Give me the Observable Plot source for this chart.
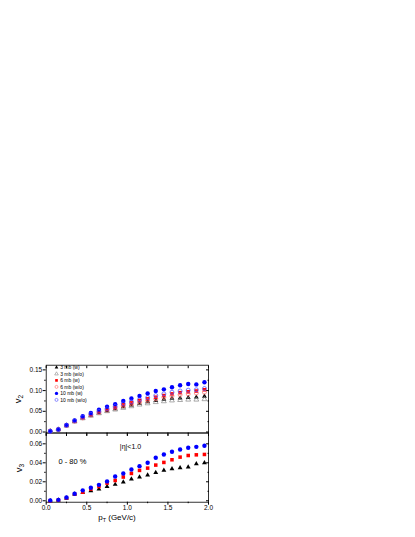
<!DOCTYPE html>
<html><head><meta charset="utf-8">
<script src="https://cdn.jsdelivr.net/npm/d3@7"></script>
<script src="https://cdn.jsdelivr.net/npm/@observablehq/plot@0.6"></script>
<style>
body{margin:0;background:#fff;}
#c{position:relative;width:415px;height:537px;background:#fff;overflow:hidden;font-family:"Liberation Sans",Arial,sans-serif;}
#c svg{position:absolute;left:0;}
.lab{position:absolute;white-space:nowrap;color:#000;line-height:1;}
.lab sub{font-size:68%;vertical-align:-0.3em;}
</style></head><body><div id="c"></div>
<script>
// ---- data ----
const pt = [0.05,0.15,0.25,0.35,0.45,0.55,0.65,0.75,0.85,0.95,1.05,1.15,1.25,1.35,1.45,1.55,1.65,1.75,1.85,1.95];
const seriesNames = ["3 mb (w)","3 mb (w/o)","6 mb (w)","6 mb (w/o)","10 mb (w)","10 mb (w/o)"];
const v2_3mb_w   = [0.002,0.006,0.016,0.026,0.034,0.040,0.046,0.051,0.056,0.061,0.065,0.069,0.073,0.076,0.079,0.081,0.082,0.083,0.084,0.086];
const v2_3mb_wo  = [0.002,0.006,0.015,0.025,0.033,0.039,0.045,0.050,0.054,0.058,0.062,0.066,0.069,0.072,0.074,0.076,0.077,0.078,0.078,0.079];
const v2_6mb_w   = [0.002,0.006,0.016,0.026,0.035,0.042,0.049,0.055,0.060,0.066,0.071,0.076,0.080,0.084,0.088,0.092,0.095,0.097,0.099,0.102];
const v2_6mb_wo  = [0.002,0.006,0.016,0.026,0.034,0.041,0.047,0.053,0.058,0.063,0.068,0.072,0.076,0.080,0.084,0.087,0.090,0.092,0.094,0.096];
const v2_10mb_w  = [0.002,0.006,0.017,0.028,0.038,0.046,0.054,0.061,0.067,0.075,0.081,0.087,0.093,0.099,0.103,0.108,0.113,0.116,0.115,0.120];
const v2_10mb_wo = [0.002,0.006,0.016,0.027,0.036,0.043,0.050,0.056,0.062,0.068,0.073,0.078,0.083,0.088,0.092,0.096,0.099,0.101,0.102,0.105];
const v3_3mb_w   = [0.000,0.0007,0.0028,0.0070,0.0088,0.0105,0.0123,0.0150,0.0172,0.0196,0.0228,0.0250,0.0270,0.0298,0.0320,0.0337,0.0347,0.0354,0.0390,0.0400];
const v3_6mb_w   = [0.000,0.0007,0.0028,0.0070,0.0090,0.0123,0.0150,0.0186,0.0214,0.0250,0.0288,0.0320,0.0344,0.0376,0.0404,0.0432,0.0460,0.0477,0.0484,0.0488];
const v3_10mb_w  = [0.0004,0.0010,0.0035,0.0074,0.0110,0.0137,0.0168,0.0204,0.0256,0.0288,0.0330,0.0365,0.0400,0.0453,0.0488,0.0516,0.0540,0.0558,0.0568,0.0579];
const v2Ticks = [0,0.05,0.10,0.15];
const v2Minor = [0.025,0.075,0.125];
const v3Ticks = [0,0.02,0.04,0.06];
const v3Minor = [0.01,0.03,0.05];
const xTicks = [0,0.5,1.0,1.5,2.0];
const xMinor = [0.25,0.75,1.25,1.75];
const etaLabel = "|η|<1.0";
const centLabel = "0 - 80 %";

// ---- styles ----
const sty = {
  "3 mb (w)":   {symbol:"triangle", fill:"#000", stroke:"none", r:1.8},
  "3 mb (w/o)": {symbol:"triangle", fill:"none", stroke:"#888", r:1.8},
  "6 mb (w)":   {symbol:"square",   fill:"#f00", stroke:"none", r:2.0},
  "6 mb (w/o)": {symbol:"circle",   fill:"none", stroke:"#ff6060", r:2.0},
  "10 mb (w)":  {symbol:"circle",   fill:"#00f", stroke:"none", r:2.2},
  "10 mb (w/o)":{symbol:"circle",   fill:"none", stroke:"#4848ff", r:2.0}
};
const v2Series = {"3 mb (w)":v2_3mb_w,"3 mb (w/o)":v2_3mb_wo,"6 mb (w)":v2_6mb_w,"6 mb (w/o)":v2_6mb_wo,"10 mb (w)":v2_10mb_w,"10 mb (w/o)":v2_10mb_wo};
const v3Series = {"3 mb (w)":v3_3mb_w,"6 mb (w)":v3_6mb_w,"10 mb (w)":v3_10mb_w};

function dots(series) {
  return Object.entries(series).map(([name, vals]) => {
    const s = sty[name];
    return Plot.dot(pt.map((x,i)=>({x, y: vals[i]})), {x:"x", y:"y", symbol:s.symbol, r:s.r, fill:s.fill, stroke:s.stroke, strokeWidth:0.7});
  });
}
const blank = () => "";
function frameAxes(yT, yM, xLabels) {
  return [
    Plot.axisY({ticks:yT, tickSize:3, tickPadding:1, tickFormat:d3.format(".2f"), label:null}),
    Plot.axisY({ticks:yM, tickSize:1.5, tickFormat:blank, label:null}),
    Plot.axisY({anchor:"right", ticks:yT, tickSize:3, dx:-3, tickFormat:blank, label:null}),
    Plot.axisY({anchor:"right", ticks:yM, tickSize:1.5, dx:-1.5, tickFormat:blank, label:null}),
    Plot.axisX({anchor:"top", ticks:[...xTicks,...xMinor], tickSize:2.5, dy:2.5, tickFormat:blank, label:null}),
    Plot.axisX({anchor:"bottom", ticks:xTicks, tickSize:3, tickPadding:0.5, tickFormat: xLabels ? d3.format(".1f") : blank, label:null}),
    Plot.axisX({anchor:"bottom", ticks:xMinor, tickSize:1.5, tickFormat:blank, label:null}),
    Plot.frame({stroke:"#000", strokeWidth:0.8})
  ];
}
const common = {width:415, marginLeft:45.7, marginRight:207, style:{fontFamily:"Liberation Sans, Arial, sans-serif", fontSize:"6.5px", background:"transparent", overflow:"visible"}};

const legend = seriesNames.flatMap((name,i) => {
  const s = sty[name];
  return [
    Plot.dot([name], {frameAnchor:"top-left", dx:10.3, dy:2.2+6.5*i, symbol:s.symbol, r:s.r*0.75, fill:s.fill, stroke:s.stroke, strokeWidth:0.6}),
    Plot.text([name], {frameAnchor:"top-left", dx:14, dy:2.2+6.5*i, text:d=>d, textAnchor:"start", fontSize:5, lineAnchor:"middle"})
  ];
});

const topChart = Plot.plot({...common, height:83, marginTop:9.7, marginBottom:5.5,
  x:{domain:[0,2]}, y:{domain:[-0.0024,0.1613]},
  marks:[...frameAxes(v2Ticks, v2Minor, false), ...dots(v2Series), ...legend]});
const botChart = Plot.plot({...common, height:107, marginTop:2.5, marginBottom:35.3,
  x:{domain:[0,2]}, y:{domain:[-0.0015,0.0714]},
  marks:[...frameAxes(v3Ticks, v3Minor, true), ...dots(v3Series),
    Plot.text([etaLabel], {frameAnchor:"top-left", dx:84.3, dy:11.5, text:d=>d, fontSize:7, textAnchor:"middle"}),
    Plot.text([centLabel], {frameAnchor:"top-left", dx:26.3, dy:25.5, text:d=>d, fontSize:7.5, textAnchor:"middle"})
  ]});
const c = document.getElementById("c");
botChart.style.top = "430px";
topChart.style.top = "355px";
c.appendChild(botChart);
c.appendChild(topChart);

function lab(html, x, y, size, rot) {
  const d = document.createElement("div");
  d.className = "lab";
  d.innerHTML = html;
  d.style.left = x + "px"; d.style.top = y + "px"; d.style.fontSize = size + "px";
  d.style.transform = "translate(-50%,-50%)" + (rot ? " rotate(-90deg)" : "");
  c.appendChild(d);
}
lab("v<sub>2</sub>", 18.5, 399, 9.5, true);
lab("v<sub>3</sub>", 19.5, 468, 9.5, true);
lab("p<sub>T</sub> (GeV/c)", 117, 519, 8, false);
</script></body></html>
